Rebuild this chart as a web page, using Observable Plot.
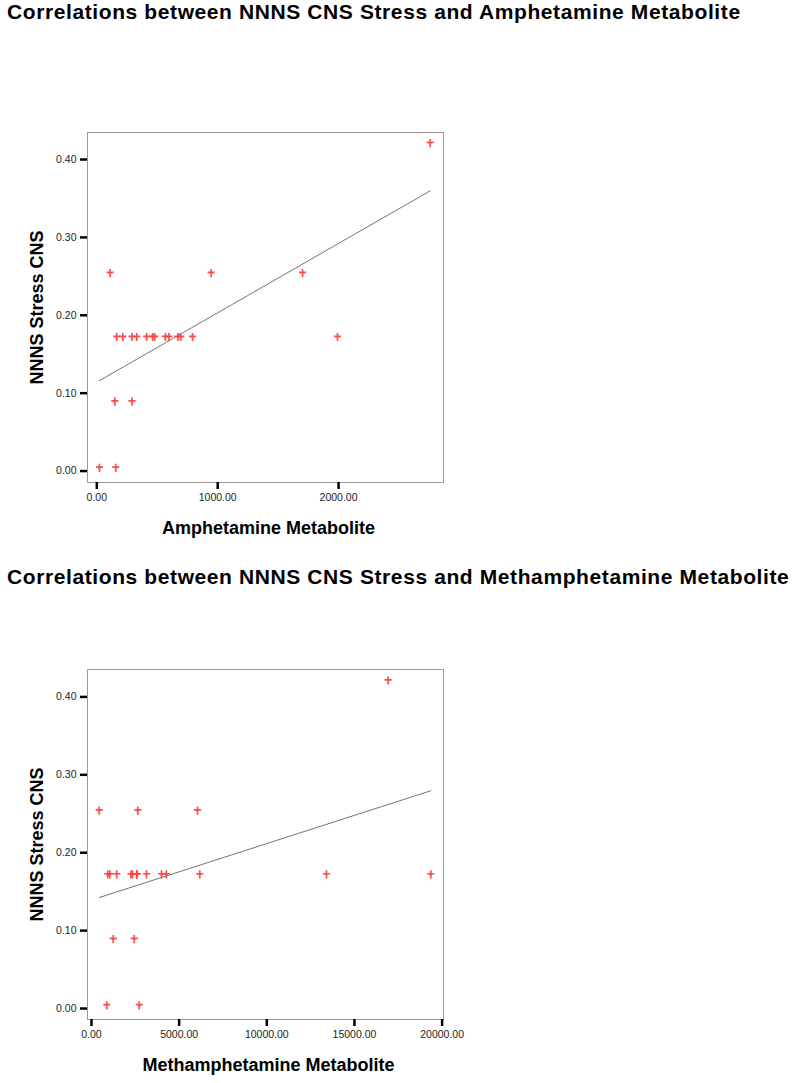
<!DOCTYPE html>
<html>
<head>
<meta charset="utf-8">
<script src="https://cdn.jsdelivr.net/npm/d3@7"></script>
<script src="https://cdn.jsdelivr.net/npm/@observablehq/plot@0.6"></script>
<style>
  html, body { margin: 0; padding: 0; background: #fff; }
  #page { position: relative; width: 800px; height: 1083px; font-family: "Liberation Sans", Arial, sans-serif; }
  .title { position: absolute; left: 7px; font-size: 21px; line-height: 20px; font-weight: bold; letter-spacing: 0.6px; color: #000; white-space: nowrap; }
  .chart { position: absolute; left: 0; }
  g[aria-label="axis-title"] text { letter-spacing: 0.4px; }
</style>
</head>
<body>
<div id="page">
  <div class="title" id="t1" style="top:2px"></div>
  <div class="chart" id="c1" style="top:120px"></div>
  <div class="title" id="t2" style="top:567px"></div>
  <div class="chart" id="c2" style="top:650px"></div>
</div>
<script>
// ---- Data ----
const titles = [
  "Correlations between NNNS CNS Stress and Amphetamine Metabolite",
  "Correlations between NNNS CNS Stress and Methamphetamine Metabolite"
];
const yLabel = "NNNS Stress CNS";
const xLabels = ["Amphetamine Metabolite", "Methamphetamine Metabolite"];
const yTicks = [0, 0.1, 0.2, 0.3, 0.4];
const amphTicks = [0, 1000, 2000];
const methTicks = [0, 5000, 10000, 15000, 20000];

const amphX = [22, 157, 149, 291, 165, 215, 291, 330, 413, 462, 479, 567, 597, 671, 693, 792, 1991, 110, 946, 1702, 2758];
const amphY = [0.005, 0.005, 0.09, 0.09, 0.173, 0.173, 0.173, 0.173, 0.173, 0.173, 0.173, 0.173, 0.173, 0.173, 0.173, 0.173, 0.173, 0.255, 0.255, 0.255, 0.422];

const methX = [873, 2721, 1238, 2436, 930, 1044, 1438, 2253, 2339, 2578, 2607, 3137, 3993, 4267, 6178, 13406, 19355, 439, 2641, 6047, 16925];
const methY = [0.005, 0.005, 0.09, 0.09, 0.173, 0.173, 0.173, 0.173, 0.173, 0.173, 0.173, 0.173, 0.173, 0.173, 0.173, 0.173, 0.173, 0.255, 0.255, 0.255, 0.422];

// ---- Marker (small red dagger/plus) ----
const dagger = {
  draw(ctx, size) {
    const r = Math.sqrt(size / Math.PI);
    ctx.rect(-0.85, -r * 0.85, 1.7, r * 2.05);
    ctx.rect(-r * 0.9, -0.85, r * 1.8, 1.7);
    ctx.moveTo(1.6, 0.3);
    ctx.arc(0, 0.3, 1.6, 0, 2 * Math.PI);
  }
};

function chart({xs, ys, xTicks, xDomain, yDomain, xLabel, marginTop, marginBottom}) {
  const data = xs.map((x, i) => ({x, y: ys[i]}));
  return Plot.plot({
    width: 480,
    height: 430,
    marginLeft: 87,
    marginRight: 37,
    marginTop,
    marginBottom,
    style: {fontFamily: "'Liberation Sans', Arial, sans-serif", background: "#fff", color: "#000"},
    x: {domain: xDomain},
    y: {domain: yDomain},
    marks: [
      Plot.frame({stroke: "#9a9a9a", strokeWidth: 1}),
      Plot.axisX({ticks: xTicks, tickSize: 7, tickPadding: 4, strokeWidth: 2.5, stroke: "#000", fill: "#222",
                  tickFormat: d3.format(".2f"), fontSize: 10.5, label: null}),
      Plot.axisY({ticks: yTicks, tickSize: 7, tickPadding: 4, strokeWidth: 2.5, stroke: "#000", fill: "#222",
                  tickFormat: d3.format(".2f"), fontSize: 10.5, label: null}),
      Plot.linearRegressionY(data, {x: "x", y: "y", stroke: "#505050", strokeWidth: 0.8, ci: 0}),
      Plot.dot(data, {x: "x", y: "y", symbol: dagger, r: 4, fill: "#ff3b3b", fillOpacity: 0.9}),
      Plot.text([xLabel], {frameAnchor: "bottom", dy: 46, dx: 3, textAnchor: "middle", lineAnchor: "middle", fontSize: 18, fontWeight: "bold", ariaLabel: "axis-title"}),
      Plot.text([yLabel], {frameAnchor: "left", dx: -50, rotate: -90, textAnchor: "middle", lineAnchor: "middle", fontSize: 18, fontWeight: "bold", ariaLabel: "axis-title"})
    ]
  });
}

document.getElementById("t1").textContent = titles[0];
document.getElementById("t2").textContent = titles[1];

document.getElementById("c1").appendChild(chart({
  xs: amphX, ys: amphY, xTicks: amphTicks,
  xDomain: [-77, 2868], yDomain: [-0.0147, 0.4347],
  xLabel: xLabels[0], marginTop: 12, marginBottom: 68
}));

document.getElementById("c2").appendChild(chart({
  xs: methX, ys: methY, xTicks: methTicks,
  xDomain: [-228, 20080], yDomain: [-0.0141, 0.4352],
  xLabel: xLabels[1], marginTop: 19, marginBottom: 61
}));
</script>
</body>
</html>
